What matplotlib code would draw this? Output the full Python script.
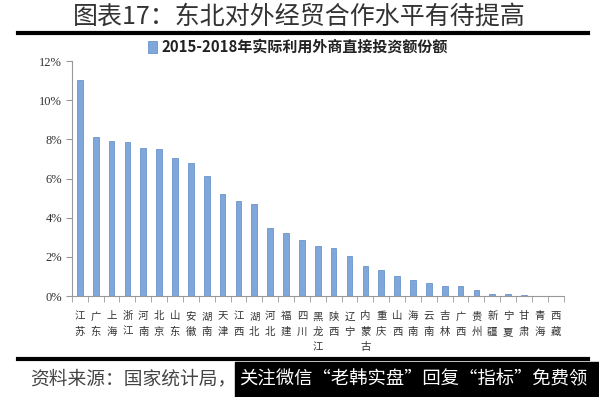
import matplotlib
matplotlib.use("Agg")
import matplotlib.pyplot as plt
from matplotlib.lines import Line2D
from matplotlib.patches import Rectangle
from matplotlib.ticker import FuncFormatter

plt.rcParams['font.family'] = ['Noto Sans CJK SC', 'DejaVu Sans']

provinces = ["江苏", "广东", "上海", "浙江", "河南", "北京", "山东", "安徽",
             "湖南", "天津", "江西", "湖北", "河北", "福建", "四川", "黑龙江",
             "陕西", "辽宁", "内蒙古", "重庆", "山西", "海南", "云南", "吉林",
             "广西", "贵州", "新疆", "宁夏", "甘肃", "青海", "西藏"]

share = [11.02, 8.12, 7.90, 7.87, 7.58, 7.51, 7.03, 6.81,
         6.11, 5.21, 4.86, 4.69, 3.47, 3.21, 2.87, 2.58,
         2.47, 2.03, 1.52, 1.33, 1.04, 0.82, 0.65, 0.50,
         0.50, 0.33, 0.12, 0.12, 0.04, 0.03, 0.02]

yticks = [0, 2, 4, 6, 8, 10, 12]

series_name = "2015-2018年实际利用外商直接投资额份额"
title = "图表17：东北对外经贸合作水平有待提高"
source = "资料来源：国家统计局，"
watermark = "关注微信“老韩实盘”回复“指标”免费领"

fig = plt.figure(figsize=(5.99, 3.97), dpi=100)
ax = fig.add_axes([0.120, 0.254, 0.821, 0.592])

x = list(range(len(provinces)))
ax.bar(x, share, width=0.36, color="#7FA7DA", edgecolor="#5A88C4",
       linewidth=0.5, label=series_name)

ax.set_xlim(-0.5, len(provinces) - 0.5)
ax.set_ylim(0, 12)
ax.set_yticks(yticks)
ax.yaxis.set_major_formatter(FuncFormatter(lambda v, p: "%d%%" % v))
for lab in ax.get_yticklabels():
    lab.set_family("Liberation Serif")
    lab.set_fontsize(9)
    lab.set_color("#333333")

# category labels stacked vertically, ticks between categories
ax.set_xticks(x)
ax.set_xticklabels(["\n".join(p) for p in provinces], fontsize=7.5,
                   color="#333333", linespacing=1.65, va="top")
ax.tick_params(axis="x", length=0, pad=11)
ax.set_xticks([i - 0.5 for i in range(len(provinces) + 1)], minor=True)
ax.tick_params(axis="x", which="minor", length=4, color="#999999")
ax.tick_params(axis="y", length=4, color="#999999", pad=3)

for s in ["top", "right"]:
    ax.spines[s].set_visible(False)
ax.spines["left"].set_color("#999999")
ax.spines["bottom"].set_color("#999999")

leg = ax.legend(loc="center", bbox_to_anchor=(0.46, 1.06), frameon=False,
                handlelength=0.6, handleheight=0.8, handletextpad=0.3,
                prop={"family": "Noto Sans CJK SC", "weight": "bold", "size": 10.8})
for t in leg.get_texts():
    t.set_color("#222222")

fig.text(0.50, 0.958, title, ha="center", va="center", fontsize=18,
         color="#333333", fontweight="light")
fig.add_artist(Line2D([0.03, 0.982], [0.917, 0.917], color="black", lw=3))
fig.add_artist(Line2D([0.03, 0.982], [0.095, 0.095], color="black", lw=3))

fig.text(0.05, 0.045, source, ha="left", va="center", fontsize=13.5,
         color="#444444", style="italic")
fig.add_artist(Rectangle((0.392, 0.0), 0.608, 0.088, transform=fig.transFigure,
                         color="black", zorder=5))
fig.text(0.400, 0.044, watermark, ha="left", va="center", fontsize=13.2,
         color="white", zorder=6)

fig.savefig("out.png", dpi=100)
